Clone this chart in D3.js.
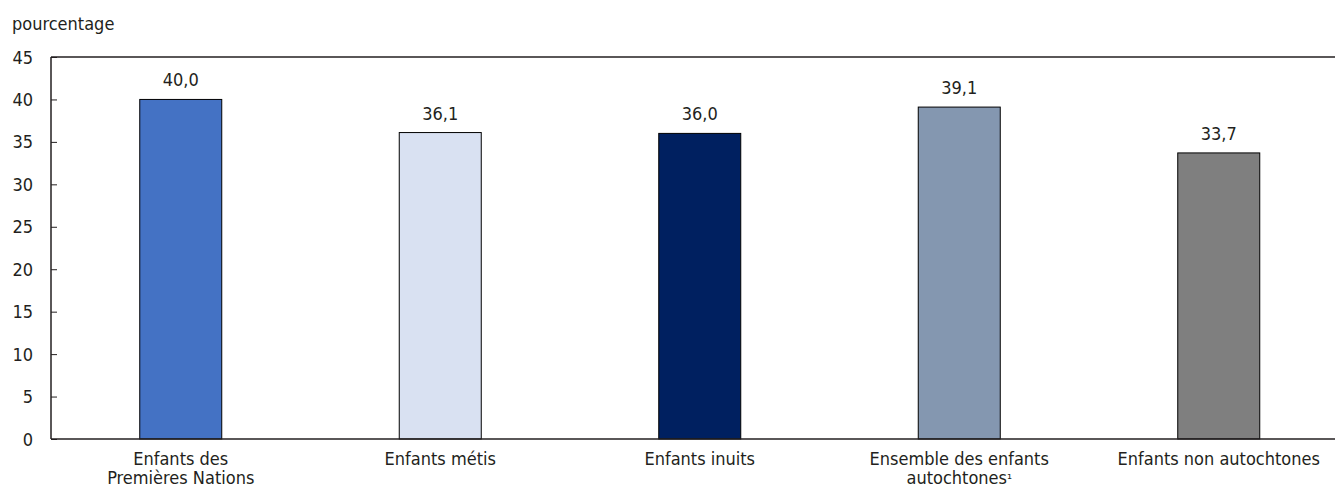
<!DOCTYPE html>
<html lang="fr">
<head>
<meta charset="UTF-8">
<script src="https://cdn.jsdelivr.net/npm/d3@7"></script>
<style>
    body { margin: 0; background: #fff; }
    svg text { font-family: "DejaVu Sans Condensed", "Liberation Sans Narrow", sans-serif; fill: #231f20; font-size: 18px; }
</style>
</head>
<body>
<div id="chart"></div>
<script>
    // data
    const categories = [
        ["Enfants des", "Premières Nations"],
        ["Enfants métis"],
        ["Enfants inuits"],
        ["Ensemble des enfants", "autochtones¹"],
        ["Enfants non autochtones"]
    ];
    const values = [40.0, 36.1, 36.0, 39.1, 33.7];
    const colors = ["#4472c4", "#d9e1f2", "#002060", "#8497b0", "#7f7f7f"];
    const yTicks = [0, 5, 10, 15, 20, 25, 30, 35, 40, 45];

    const width = 1335, height = 490;
    const margin = { left: 51, top: 57, bottom: 51 };

    const svg = d3.select("#chart").append("svg")
        .attr("width", width)
        .attr("height", height);

    const x = d3.scaleBand()
        .domain(d3.range(categories.length))
        .range([margin.left, margin.left + 5 * 259.5]);

    const y = d3.scaleLinear()
        .domain([0, 45])
        .range([height - margin.bottom, margin.top]);

    const barW = 82;
    const fmt = v => v.toFixed(1).replace(".", ",");

    // y axis
    const yAxis = svg.append("g")
        .attr("transform", `translate(${margin.left},0)`)
        .call(d3.axisRight(y).tickValues(yTicks).tickSize(6).tickFormat(""));
    yAxis.select(".domain").remove();
    yAxis.selectAll("line").attr("stroke", "#231f20");

    svg.append("g").selectAll("text")
        .data(yTicks)
        .join("text")
        .attr("x", 33)
        .attr("y", d => y(d) + 6.5)
        .attr("text-anchor", "end")
        .text(d => d);

    svg.append("text")
        .attr("x", 12)
        .attr("y", 30)
        .text("pourcentage");

    // bars
    svg.append("g").selectAll("rect")
        .data(values)
        .join("rect")
        .attr("x", (d, i) => x(i) + x.bandwidth() / 2 - barW / 2)
        .attr("y", d => y(d))
        .attr("width", barW)
        .attr("height", d => y(0) - y(d))
        .attr("fill", (d, i) => colors[i])
        .attr("stroke", "#000")
        .attr("stroke-width", 1);

    svg.append("g").selectAll("text")
        .data(values)
        .join("text")
        .attr("x", (d, i) => x(i) + x.bandwidth() / 2)
        .attr("y", d => y(d) - 13)
        .attr("text-anchor", "middle")
        .text(fmt);

    // frame lines
    svg.append("line")
        .attr("x1", margin.left).attr("x2", width)
        .attr("y1", margin.top).attr("y2", margin.top)
        .attr("stroke", "#231f20").attr("stroke-width", 1.5);
    svg.append("line")
        .attr("x1", margin.left).attr("x2", margin.left)
        .attr("y1", margin.top).attr("y2", y(0))
        .attr("stroke", "#231f20").attr("stroke-width", 1.5);
    svg.append("line")
        .attr("x1", margin.left).attr("x2", width)
        .attr("y1", y(0)).attr("y2", y(0))
        .attr("stroke", "#231f20").attr("stroke-width", 1.5);

    // category labels (footnote mark drawn a bit smaller)
    const cat = svg.append("g").selectAll("text")
        .data(categories)
        .join("text")
        .attr("x", (d, i) => x(i) + x.bandwidth() / 2)
        .attr("y", 465)
        .attr("text-anchor", "middle");
    cat.each(function (d) {
        const t = d3.select(this);
        const cx = t.attr("x");
        d.forEach((line, j) => {
            const sup = line.endsWith("¹");
            t.append("tspan").attr("x", cx).attr("dy", j ? 19 : 0)
                .text(sup ? line.slice(0, -1) : line);
            if (sup) {
                t.append("tspan").style("font-size", "14px").text("¹");
            }
        });
    });
</script>
</body>
</html>
